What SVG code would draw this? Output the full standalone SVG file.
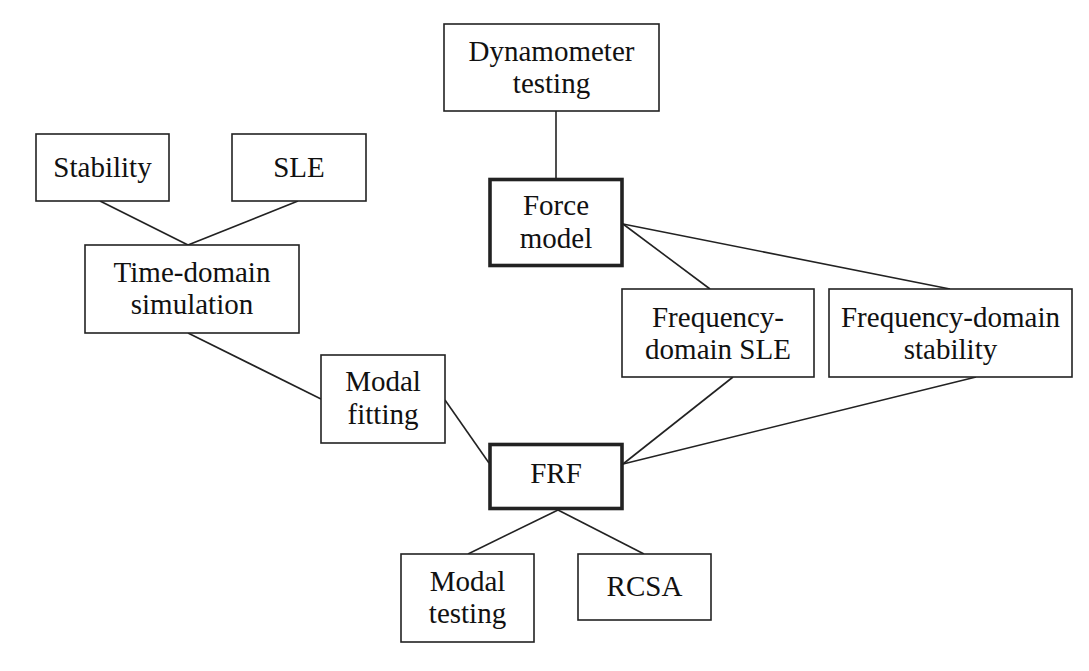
<svg xmlns="http://www.w3.org/2000/svg" width="1089" height="671" viewBox="0 0 1089 671">
<style>
.box{fill:#fff;stroke:#222;stroke-width:1.6}
.thick{fill:#fff;stroke:#222;stroke-width:3.6}
.lbl{font-family:"Liberation Serif","Times New Roman",serif;font-size:29px;fill:#111;text-anchor:middle}
.edge{stroke:#222;stroke-width:1.6;fill:none}
</style>
<rect width="1089" height="671" fill="#fff"/>
<g id="connectors">
<line class="edge" x1="100" y1="201" x2="188" y2="245"/>
<line class="edge" x1="298" y1="201" x2="188" y2="245"/>
<line class="edge" x1="188" y1="333" x2="321" y2="399"/>
<line class="edge" x1="445" y1="400" x2="489" y2="463"/>
<line class="edge" x1="556" y1="111" x2="556" y2="178"/>
<line class="edge" x1="623" y1="224" x2="710" y2="289"/>
<line class="edge" x1="623" y1="224" x2="950" y2="289"/>
<line class="edge" x1="733" y1="377" x2="623" y2="464"/>
<line class="edge" x1="976" y1="377" x2="623" y2="464"/>
<line class="edge" x1="558" y1="510" x2="468" y2="554"/>
<line class="edge" x1="558" y1="510" x2="644" y2="554"/>
</g>
<g id="stability">
<rect class="box" x="36" y="134" width="133" height="67"/>
<text class="lbl" x="102.5" y="177">Stability</text>
</g>
<g id="sle">
<rect class="box" x="232" y="134" width="134" height="67"/>
<text class="lbl" x="299" y="177">SLE</text>
</g>
<g id="time-domain">
<rect class="box" x="85" y="245" width="214" height="88"/>
<text class="lbl" x="192" y="282">Time-domain</text>
<text class="lbl" x="192" y="314">simulation</text>
</g>
<g id="modal-fitting">
<rect class="box" x="321" y="355" width="124" height="88"/>
<text class="lbl" x="383" y="391">Modal</text>
<text class="lbl" x="383" y="424">fitting</text>
</g>
<g id="dynamometer">
<rect class="box" x="444" y="24" width="215" height="87"/>
<text class="lbl" x="551.5" y="61">Dynamometer</text>
<text class="lbl" x="551.5" y="93">testing</text>
</g>
<g id="force-model">
<rect class="thick" x="490" y="179.5" width="132" height="86"/>
<text class="lbl" x="556" y="215">Force</text>
<text class="lbl" x="556" y="248">model</text>
</g>
<g id="fd-sle">
<rect class="box" x="622" y="289" width="192" height="88"/>
<text class="lbl" x="718" y="327">Frequency-</text>
<text class="lbl" x="718" y="359">domain SLE</text>
</g>
<g id="fd-stability">
<rect class="box" x="829" y="289" width="243" height="88"/>
<text class="lbl" x="950.5" y="327">Frequency-domain</text>
<text class="lbl" x="950.5" y="359">stability</text>
</g>
<g id="frf">
<rect class="thick" x="490" y="444.5" width="132" height="64"/>
<text class="lbl" x="556" y="483">FRF</text>
</g>
<g id="modal-testing">
<rect class="box" x="401" y="554" width="133" height="88"/>
<text class="lbl" x="467.5" y="591">Modal</text>
<text class="lbl" x="467.5" y="623">testing</text>
</g>
<g id="rcsa">
<rect class="box" x="578" y="554" width="133" height="66"/>
<text class="lbl" x="644.5" y="596">RCSA</text>
</g>
</svg>
